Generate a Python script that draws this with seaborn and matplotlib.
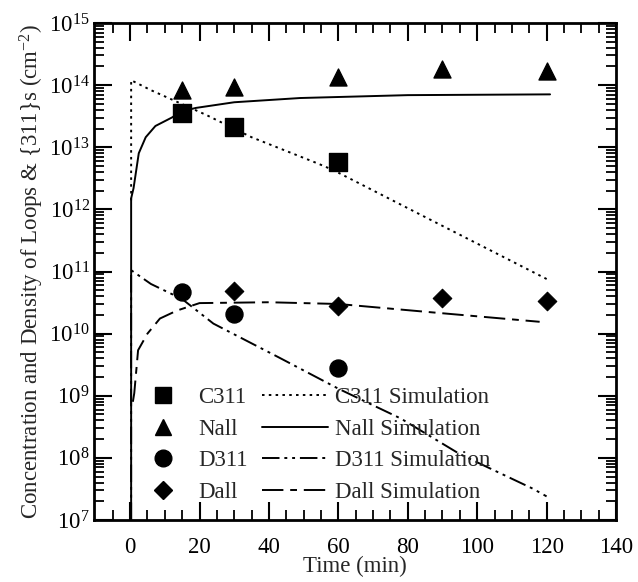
import matplotlib
matplotlib.use("Agg")
import matplotlib.pyplot as plt
import seaborn as sns
import numpy as np
import pandas as pd
from matplotlib.lines import Line2D
from matplotlib.ticker import FixedLocator, LogLocator, NullFormatter

# ---- measured data ----
time_meas = [15, 30, 60]
c311 = [3.6e13, 2.1e13, 5.8e12]
d311 = [4.6e10, 2.1e10, 2.8e9]
time_all = [15, 30, 60, 90, 120]
nall = [8.3e13, 9.4e13, 1.35e14, 1.8e14, 1.7e14]
time_dall = [30, 60, 90, 120]
dall = [4.8e10, 2.8e10, 3.7e10, 3.3e10]

# ---- simulation curves ----
c311_sim_t = [0.3, 0.3, 6, 22, 35, 54, 58.5, 87, 121]
c311_sim_y = [1.4e12, 1.2e14, 8.3e13, 3.3e13, 1.45e13, 5.5e12, 4.3e12, 6.6e11, 7.1e10]
nall_sim_t = [0.3, 0.3, 1, 2.5, 4.5, 7.3, 12, 15, 19, 30, 49, 80, 121]
nall_sim_y = [1e7, 1.5e12, 2.2e12, 8e12, 1.45e13, 2.2e13, 3e13, 3.8e13, 4.3e13, 5.3e13, 6.2e13, 6.9e13, 7.1e13]
d311_sim_t = [0.3, 0.3, 6, 15, 24, 43, 60, 78, 95, 116, 120]
d311_sim_y = [1e7, 1.05e11, 6.3e10, 3.6e10, 1.45e10, 4.1e9, 1.3e9, 4.3e8, 1.15e8, 3.2e7, 2.4e7]
dall_sim_t = [0.8, 1.2, 2.3, 5, 8.6, 13.5, 20, 40, 60, 87, 118]
dall_sim_y = [8e8, 1.1e9, 5.4e9, 1e10, 1.75e10, 2.35e10, 3.1e10, 3.2e10, 3.0e10, 2.2e10, 1.55e10]

marker_labels = ['C311', 'Nall', 'D311', 'Dall']
sim_labels = ['C311 Simulation', 'Nall Simulation', 'D311 Simulation', 'Dall Simulation']

sns.set_theme(style="white")
plt.rcParams['font.family'] = ['Liberation Serif', 'DejaVu Serif']
plt.rcParams['mathtext.fontset'] = 'stix'
plt.rcParams['mathtext.default'] = 'regular'

FS = 16.5
fig = plt.figure(figsize=(6.38, 5.82), dpi=100)
ax = fig.add_axes([94/638, 1-520/582, 522/638, 497/582])

lw = 1.4
dotted = (0, (1.3, 2.2))
dashdotdot = (0, (9, 2.5, 1.5, 2.5, 1.5, 2.5))
longshort = (0, (11, 3.5, 3.5, 3.5))

sns.lineplot(x=c311_sim_t, y=c311_sim_y, sort=False, estimator=None, ax=ax,
             color='black', lw=lw, linestyle=dotted)
sns.lineplot(x=nall_sim_t, y=nall_sim_y, sort=False, estimator=None, ax=ax,
             color='black', lw=lw)
sns.lineplot(x=d311_sim_t, y=d311_sim_y, sort=False, estimator=None, ax=ax,
             color='black', lw=lw, linestyle=dashdotdot)
sns.lineplot(x=dall_sim_t, y=dall_sim_y, sort=False, estimator=None, ax=ax,
             color='black', lw=lw, linestyle=longshort)

ms = 150
sns.scatterplot(x=time_meas, y=c311, marker='s', s=ms, color='black', edgecolor='black', ax=ax, zorder=5)
sns.scatterplot(x=time_all, y=nall, marker='^', s=ms, color='black', edgecolor='black', ax=ax, zorder=5)
sns.scatterplot(x=time_meas, y=d311, marker='o', s=ms, color='black', edgecolor='black', ax=ax, zorder=5)
sns.scatterplot(x=time_dall, y=dall, marker='D', s=90, color='black', edgecolor='black', ax=ax, zorder=5)

ax.set_yscale('log')
ax.set_ylim(1e7, 1e15)
ax.set_xlim(-10.4, 140)
ax.xaxis.set_major_locator(FixedLocator(np.arange(0, 141, 20)))
ax.xaxis.set_minor_locator(FixedLocator(np.arange(-5, 141, 5)))
ax.yaxis.set_major_locator(LogLocator(base=10, numticks=20))
ax.yaxis.set_minor_locator(LogLocator(base=10, subs=np.arange(2, 10), numticks=20))
ax.yaxis.set_minor_formatter(NullFormatter())

ax.tick_params(which='both', direction='in', top=True, right=True, bottom=True, left=True,
               colors='black', labelsize=FS)
ax.tick_params(which='major', length=13, width=1.5)
ax.tick_params(which='minor', length=7, width=1.3)
ax.tick_params(axis='x', which='major', pad=12)
ax.tick_params(axis='y', which='major', pad=3)
for sp in ax.spines.values():
    sp.set_linewidth(2)
    sp.set_color('black')

ax.set_xlabel('Time (min)', fontsize=FS, labelpad=-1)
ax.set_ylabel('Concentration and Density of Loops & {311}s (cm$^{-2}$)', fontsize=FS, labelpad=2)

mk_handles = [
    Line2D([], [], ls='none', marker='s', ms=12, color='black'),
    Line2D([], [], ls='none', marker='^', ms=12, color='black'),
    Line2D([], [], ls='none', marker='o', ms=12, color='black'),
    Line2D([], [], ls='none', marker='D', ms=9.5, color='black'),
]
ln_handles = [
    Line2D([], [], color='black', lw=lw, ls=dotted),
    Line2D([], [], color='black', lw=lw),
    Line2D([], [], color='black', lw=lw, ls=dashdotdot),
    Line2D([], [], color='black', lw=lw, ls=longshort),
]
fs_px = FS * 100 / 72
top = (520 - 387) / 497
leg1 = ax.legend(mk_handles, marker_labels, frameon=False, loc='upper left',
                 bbox_to_anchor=((140 - 94) / 522, top), borderaxespad=0, borderpad=0,
                 handlelength=46 / fs_px, handletextpad=12 / fs_px,
                 labelspacing=0.46, fontsize=FS)
ax.add_artist(leg1)
leg2 = ax.legend(ln_handles, sim_labels, frameon=False, loc='upper left',
                 bbox_to_anchor=((262 - 94) / 522, top), borderaxespad=0, borderpad=0,
                 handlelength=66 / fs_px, handletextpad=7 / fs_px,
                 labelspacing=0.46, fontsize=FS)

fig.savefig('out.png', dpi=100)
